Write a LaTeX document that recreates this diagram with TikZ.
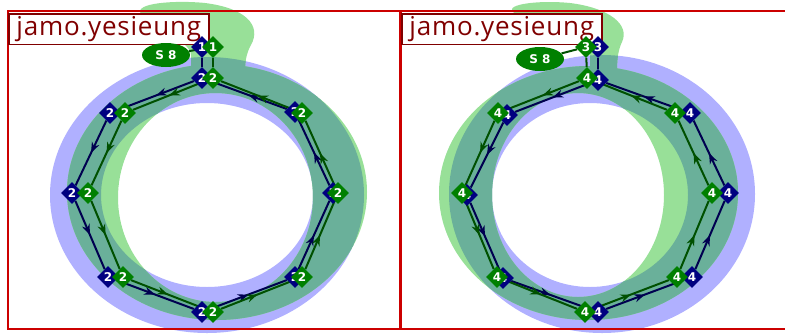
\documentclass[tikz,border=0pt]{standalone}
\usepackage{fontspec}
\setmainfont{Open Sans}
\newfontfamily\digitfont{DejaVu Sans}
\newfontfamily\namefont[LetterSpace=3]{Open Sans}
\usepackage{tikz}
\usetikzlibrary{shapes.geometric, arrows.meta, decorations.markings}
\definecolor{ringblue}{RGB}{176,176,255}
\definecolor{ringgreen}{RGB}{152,224,152}
\definecolor{ringboth}{RGB}{106,176,154}
\definecolor{ptblue}{RGB}{0,0,128}
\definecolor{ptgreen}{RGB}{0,128,0}
\definecolor{lnblue}{RGB}{0,0,80}
\definecolor{lngreen}{RGB}{0,80,0}
\definecolor{framered}{RGB}{204,0,0}
\definecolor{labelred}{RGB}{128,0,0}
\pgfdeclarelayer{rings}
\pgfdeclarelayer{edges}
\pgfsetlayers{rings,edges,main}

\begin{document}
\begin{tikzpicture}[x=0.75pt, y=-0.75pt,
        every node/.style={font=\digitfont\bfseries\fontsize{9}{9}\selectfont, text=white},
        bpt/.style={diamond, fill=ptblue, inner sep=0pt, minimum size=16.5pt},
        gpt/.style={diamond, fill=ptgreen, inner sep=0pt, minimum size=16.5pt},
        tag/.style={ellipse, fill=ptgreen, inner sep=0pt, minimum width=36pt, minimum height=18pt},
        glabel/.style={draw=labelred, line width=1.2pt, fill=white, text=labelred, font=\namefont\fontsize{19.5}{20}\selectfont, inner sep=0pt, minimum width=150pt, minimum height=23pt, anchor=north west},
        frame/.style={draw=framered, line width=1.6pt},
        bline/.style={color=lnblue, line width=1.5pt},
        gline/.style={color=lngreen, line width=1.5pt},
        mid/.style={postaction={decorate}, decoration={markings, mark=at position 0.5 with {\arrow{Stealth[length=8pt, width=6pt]}}}}]
    \useasboundingbox (0,0) rectangle (785,333);

    \begin{pgfonlayer}{rings}
        % left glyph
        \fill[ringblue, even odd rule] (207,195) ellipse [x radius=157, y radius=138] (207,195) ellipse [x radius=106, y radius=92];
        \fill[ringgreen, even odd rule] (217,192) ellipse [x radius=150, y radius=128] (215.5,197.5) ellipse [x radius=97.5, y radius=104.5];
        \fill[ringgreen] (191,72) -- (191,55) .. controls (190,40) and (152,28) .. (141,14) .. controls (133,3) and (175,0) .. (205,3) .. controls (245,8) and (262,25) .. (251,45) .. controls (247,52) and (245,60) .. (245,72) -- cycle;
        \begin{scope}[even odd rule]
            \clip (207,195) ellipse [x radius=157, y radius=138] (207,195) ellipse [x radius=106, y radius=92];
            \fill[ringboth] (217,192) ellipse [x radius=150, y radius=128] (215.5,197.5) ellipse [x radius=97.5, y radius=104.5];
            \fill[ringboth] (191,72) -- (191,55) .. controls (190,40) and (152,28) .. (141,14) .. controls (133,3) and (175,0) .. (205,3) .. controls (245,8) and (262,25) .. (251,45) .. controls (247,52) and (245,60) .. (245,72) -- cycle;
        \end{scope}
        % right glyph
        \fill[ringblue, even odd rule] (602,194) ellipse [x radius=153, y radius=139] (590,195) ellipse [x radius=98, y radius=92];
        \fill[ringgreen, even odd rule] (588.5,193) ellipse [x radius=149.5, y radius=127] (578,195) ellipse [x radius=86, y radius=102];
        \fill[ringgreen] (590,72) -- (590,55) .. controls (588,40) and (530,25) .. (513,12) .. controls (505,4) and (540,0) .. (570,3) .. controls (610,8) and (630,25) .. (622,42) .. controls (618,50) and (617,60) .. (617,72) -- cycle;
        \begin{scope}[even odd rule]
            \clip (602,194) ellipse [x radius=153, y radius=139] (590,195) ellipse [x radius=98, y radius=92];
            \fill[ringboth] (588.5,193) ellipse [x radius=149.5, y radius=127] (578,195) ellipse [x radius=86, y radius=102];
            \fill[ringboth] (590,72) -- (590,55) .. controls (588,40) and (530,25) .. (513,12) .. controls (505,4) and (540,0) .. (570,3) .. controls (610,8) and (630,25) .. (622,42) .. controls (618,50) and (617,60) .. (617,72) -- cycle;
        \end{scope}
        % frames and names
        \draw[frame] (8,11) rectangle (400,329);
        \draw[frame] (401,11) rectangle (790,329);
        \node[glabel] (lname) at (8,13) {jamo.yesieung};
        \node[glabel] (rname) at (401,13) {jamo.yesieung};
    \end{pgfonlayer}

    % left points
    \node[bpt] (lbt) at (202,47) {1};
    \node[bpt] (lb0) at (202,78) {2};
    \node[bpt] (lb1) at (110,113) {2};
    \node[bpt] (lb2) at (72,193) {2};
    \node[bpt] (lb3) at (108,277) {2};
    \node[bpt] (lb4) at (202,312) {2};
    \node[bpt] (lb5) at (295,277) {2};
    \node[bpt] (lb6) at (333,193) {2};
    \node[bpt] (lb7) at (295,112) {2};
    \node[tag] (ltag) at (166,55) {S 8};
    \node[gpt] (lgt) at (213,47) {1};
    \node[gpt] (lg0) at (213,78) {2};
    \node[gpt] (lg1) at (125,113) {2};
    \node[gpt] (lg2) at (88,193) {2};
    \node[gpt] (lg3) at (123,277) {2};
    \node[gpt] (lg4) at (213,312) {2};
    \node[gpt] (lg5) at (302,277) {2};
    \node[gpt] (lg6) at (338,193) {2};
    \node[gpt] (lg7) at (302,113) {2};

    % right points
    \node[bpt] (rbt) at (598,47) {3};
    \node[bpt] (rb0) at (598,80) {4};
    \node[bpt] (rb1) at (507,115) {4};
    \node[bpt] (rb2) at (467,195) {4};
    \node[bpt] (rb3) at (503,278) {4};
    \node[bpt] (rb4) at (598,312) {4};
    \node[bpt] (rb5) at (692,277) {4};
    \node[bpt] (rb6) at (728,193) {4};
    \node[bpt] (rb7) at (690,113) {4};
    \node[tag] (rtag) at (540,59) {S 8};
    \node[gpt] (rgt) at (586,47) {3};
    \node[gpt] (rg0) at (587,78) {4};
    \node[gpt] (rg1) at (498,113) {4};
    \node[gpt] (rg2) at (462,193) {4};
    \node[gpt] (rg3) at (497,277) {4};
    \node[gpt] (rg4) at (585,312) {4};
    \node[gpt] (rg5) at (677,277) {4};
    \node[gpt] (rg6) at (712,193) {4};
    \node[gpt] (rg7) at (675,113) {4};

    \begin{pgfonlayer}{edges}
        \draw[bline] (lbt) -- (lb0);
        \draw[gline] (lgt) -- (lg0);
        \draw[gline] (ltag) -- (lgt);
        \draw[bline] (rbt) -- (rb0);
        \draw[gline] (rgt) -- (rg0);
        \draw[gline] (rtag) -- (rgt);
        \foreach \a/\b in {0/1,1/2,2/3,3/4,4/5,5/6,6/7,7/0} {
            \draw[bline, mid] (lb\a) -- (lb\b);
            \draw[gline, mid] (lg\a) -- (lg\b);
            \draw[bline, mid] (rb\a) -- (rb\b);
            \draw[gline, mid] (rg\a) -- (rg\b);
        }
    \end{pgfonlayer}
\end{tikzpicture}
\end{document}
